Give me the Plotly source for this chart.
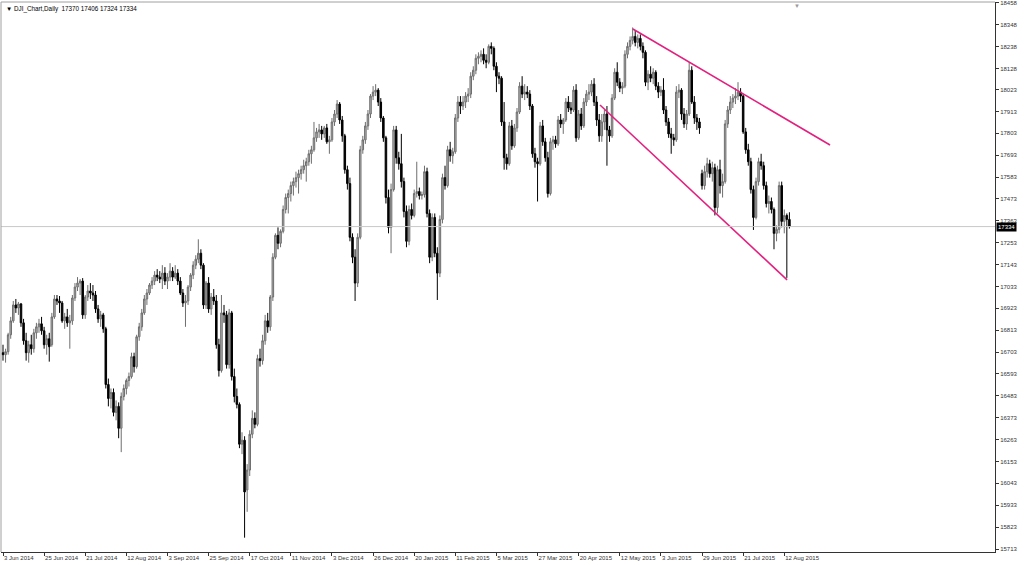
import plotly.graph_objects as go

# ---- data ----
opens = [16700,16690,16705,16790,16860,16940,16925,16945,16850,16760,16700,16740,16720,16800,16830,16845,16810,16740,16770,16740,
16880,16970,16960,16950,16860,16880,16850,16860,16975,17030,17050,17060,16890,16980,17010,17000,16990,16920,16870,16890,
16820,16540,16470,16500,16400,16430,16320,16480,16520,16560,16580,16680,16630,16780,16830,16900,16970,17000,17040,17060,
17090,17080,17070,17100,17060,17080,17110,17080,17100,17060,17000,16950,16960,17030,17090,17140,17170,17200,17140,16940,
17050,16920,16980,16960,16740,16610,16900,16890,16640,16900,16580,16480,16440,16240,16260,16010,16110,16290,16370,16340,
16670,16660,16760,16860,16830,16980,17180,17290,17250,17310,17420,17480,17500,17540,17560,17580,17600,17620,17640,17660,
17700,17720,17780,17810,17820,17800,17830,17760,17770,17860,17900,17950,17870,17790,17620,17550,17280,17180,17050,17280,
17720,17770,17840,17900,17990,18010,18020,17960,17880,17780,17480,17330,17520,17820,17680,17650,17560,17410,17260,17420,
17390,17500,17510,17490,17495,17610,17400,17180,17380,17200,17100,17370,17580,17540,17720,17690,17710,17880,17960,17940,
17960,17990,18000,18090,18120,18180,18190,18200,18170,18160,18240,18230,18140,18090,18080,17860,17680,17650,17840,17740,
17830,17910,18040,18000,18010,18000,17940,17700,17660,17650,17840,17760,17680,17500,17760,17770,17750,17870,17850,17870,
17960,17930,17920,18020,17780,17900,17840,17960,18000,18010,18050,17960,17870,17790,17860,17900,17820,17790,17980,18110,
18060,18030,18040,18200,18240,18270,18290,18260,18280,18240,18210,18060,18100,18080,18110,18040,18010,18020,17920,17860,
17800,17780,17770,18010,18020,17900,17850,17900,18120,17960,17880,17860,17600,17540,17610,17650,17600,17630,17430,17620,
17540,17560,17850,17920,17960,17980,17990,18010,17990,17810,17720,17660,17520,17380,17560,17660,17640,17540,17450,17460,
17420,17300,17320,17540,17360,17390,17370]
highs = [16740,16720,16800,16880,16960,16970,16955,16950,16870,16800,16760,16790,16820,16850,16870,16880,16830,16790,16800,16900,
16990,16990,16985,16960,16900,16920,16890,16990,17050,17080,17070,17075,16990,17040,17050,17040,17010,16940,16910,16900,
16830,16570,16520,16520,16460,16450,16500,16540,16570,16600,16700,16700,16790,16850,16920,16990,17020,17050,17080,17110,
17120,17110,17140,17130,17100,17150,17130,17140,17120,17080,17020,16990,17040,17100,17160,17190,17270,17220,17150,17060,
17080,17000,17020,16990,16770,16990,16940,16910,16920,16910,16620,16520,16450,16300,16280,16140,16310,16410,16400,16690,
16720,16790,16890,16900,16990,17200,17300,17330,17320,17440,17500,17520,17560,17580,17610,17620,17640,17670,17680,17720,
17740,17860,17830,17850,17840,17840,17850,17790,17880,17920,17970,17960,17890,17800,17640,17580,17300,17220,17300,17740,
17790,17860,17920,18000,18040,18050,18030,17980,17890,17790,17520,17550,17840,17840,17710,17800,17580,17440,17440,17450,
17520,17660,17530,17510,17640,17630,17420,17400,17400,17230,17390,17600,17640,17740,17760,17730,17900,17990,17990,17990,
18010,18030,18110,18140,18200,18210,18220,18230,18200,18250,18260,18240,18160,18110,18090,17960,17700,17860,17870,17850,
17930,18060,18090,18050,18040,18020,17950,17730,17680,17860,17870,17780,17710,17780,17790,17790,17890,17900,17880,17980,
17990,17960,18040,18050,17920,17930,17980,18020,18050,18070,18080,17990,17900,17900,17920,17940,17840,18000,18130,18160,
18080,18060,18220,18260,18290,18335,18320,18300,18300,18260,18220,18120,18140,18130,18120,18060,18040,18080,17940,17880,
17830,17800,18040,18050,18030,17930,17920,18160,18140,17990,17900,17880,17620,17640,17680,17670,17660,17650,17640,17670,
17600,17870,17940,17990,18000,18030,18060,18030,18000,17830,17750,17680,17540,17580,17680,17700,17660,17560,17490,17480,
17430,17340,17560,17560,17420,17400,17406]
lows = [16660,16650,16690,16770,16850,16900,16890,16830,16740,16660,16650,16690,16700,16770,16800,16790,16720,16690,16655,16730,
16870,16940,16900,16850,16820,16830,16720,16840,16960,17010,16990,16870,16870,16960,16970,16960,16900,16850,16830,16800,
16520,16430,16420,16380,16360,16270,16200,16460,16490,16530,16570,16600,16620,16760,16810,16890,16940,16990,17020,17040,
17060,17050,17020,17040,17020,17060,17060,17070,17040,16990,16930,16830,16940,17010,17070,17120,17150,17120,16920,16920,
16900,16890,16940,16720,16580,16600,16850,16620,16620,16560,16450,16420,16220,16190,15770,15900,16080,16270,16320,16330,
16630,16640,16740,16800,16810,16960,17170,17220,17230,17300,17400,17400,17460,17490,17530,17500,17570,17600,17560,17640,
17650,17710,17760,17780,17770,17780,17750,17700,17760,17840,17880,17850,17760,17600,17520,17260,17150,16960,17030,17270,
17700,17750,17820,17880,17970,17990,17940,17860,17760,17450,17300,17200,17510,17650,17620,17530,17380,17230,17240,17370,
17380,17480,17470,17470,17480,17380,17150,17160,17180,16965,17080,17350,17520,17530,17660,17650,17700,17860,17900,17920,
17930,17960,17980,18070,18100,18150,18160,18150,18130,18150,18200,18120,18010,18050,17840,17620,17620,17640,17720,17730,
17810,17900,17980,17970,17980,17920,17680,17630,17460,17640,17740,17660,17480,17490,17720,17730,17740,17830,17800,17860,
17910,17900,17910,17760,17770,17820,17830,17940,17970,17990,17940,17840,17760,17760,17820,17640,17760,17780,17970,18040,
18010,18000,18030,18180,18220,18250,18240,18230,18220,18180,18040,18020,18060,18050,18020,17980,17990,17900,17840,17780,
17700,17740,17760,17980,17870,17830,17820,17890,17950,17850,17820,17800,17520,17520,17580,17580,17560,17390,17400,17500,
17480,17550,17830,17900,17930,17950,17970,17960,17800,17700,17640,17500,17317,17370,17540,17620,17520,17430,17400,17400,
17220,17260,17300,17330,17300,17076,17324]
closes = [16690,16705,16790,16860,16940,16925,16945,16850,16760,16700,16740,16720,16800,16830,16845,16810,16740,16770,16730,16880,
16970,16960,16950,16860,16880,16850,16860,16975,17030,17050,17060,16890,16980,17010,17000,16990,16920,16870,16890,16820,
16540,16470,16500,16400,16430,16320,16480,16520,16560,16580,16680,16630,16780,16830,16900,16970,17000,17040,17060,17090,
17080,17070,17100,17060,17080,17110,17080,17100,17060,17000,16950,16960,17030,17090,17140,17170,17200,17140,16940,17050,
16920,16980,16960,16740,16610,16900,16890,16640,16900,16580,16480,16440,16240,16260,16000,16110,16290,16370,16340,16670,
16660,16760,16860,16830,16980,17180,17290,17250,17310,17420,17480,17500,17540,17560,17580,17600,17620,17640,17660,17700,
17720,17780,17810,17820,17800,17830,17760,17770,17860,17900,17950,17870,17790,17620,17550,17280,17180,17050,17280,17720,
17770,17840,17900,17990,18010,18020,17960,17880,17780,17480,17330,17520,17820,17680,17650,17560,17410,17260,17420,17390,
17500,17510,17490,17495,17610,17400,17180,17380,17200,17100,17370,17580,17540,17720,17690,17710,17880,17960,17940,17960,
17990,18000,18090,18120,18180,18190,18200,18170,18160,18240,18230,18140,18090,18080,17860,17680,17650,17840,17740,17830,
17910,18040,18000,18010,18000,17940,17700,17660,17650,17840,17760,17680,17500,17760,17770,17750,17870,17850,17870,17960,
17930,17920,18020,17780,17900,17840,17960,18000,18010,18050,17960,17870,17790,17860,17900,17820,17790,17980,18110,18060,
18030,18040,18200,18240,18270,18290,18260,18280,18240,18210,18060,18100,18080,18110,18040,18010,18020,17920,17860,17800,
17780,17770,18010,18020,17900,17850,17900,18120,17960,17880,17860,17830,17540,17610,17650,17600,17630,17430,17620,17540,
17560,17850,17920,17960,17980,17990,18010,17990,17810,17720,17660,17520,17380,17560,17660,17640,17540,17450,17460,17420,
17300,17320,17540,17360,17390,17370,17334]

date_labels = ["3 Jun 2014","25 Jun 2014","21 Jul 2014","12 Aug 2014","3 Sep 2014","25 Sep 2014","17 Oct 2014",
               "11 Nov 2014","3 Dec 2014","26 Dec 2014","20 Jan 2015","11 Feb 2015","5 Mar 2015","27 Mar 2015",
               "20 Apr 2015","12 May 2015","3 Jun 2015","29 Jun 2015","21 Jul 2015","12 Aug 2015"]
bars_per_label = 16
price_ticks = [18458,18348,18238,18128,18023,17913,17803,17693,17583,17473,17363,17253,17143,17033,
               16923,16813,16703,16593,16483,16373,16263,16153,16043,15933,15823,15713]
last_price = 17334
title_text = "DJI_Chart,Daily  17370 17406 17324 17334"
# trend lines drawn on the chart: (bar index, price)
upper_line_x = [245.1, 321.8]
upper_line_y = [18327, 17744]
lower_line_x = [232.3, 305.1]
lower_line_y = [17945, 17066]

assert len(opens) == len(highs) == len(lows) == len(closes)
n = len(closes)
idx = list(range(n))

fig = go.Figure()
fig.add_trace(go.Candlestick(
    x=idx, open=opens, high=highs, low=lows, close=closes,
    increasing=dict(line=dict(color="#6e6e6e", width=1), fillcolor="#b4b4b4"),
    decreasing=dict(line=dict(color="#000000", width=1), fillcolor="#000000"),
    whiskerwidth=0, hoverinfo="skip", showlegend=False,
))
fig.add_trace(go.Scatter(x=upper_line_x, y=upper_line_y, mode="lines",
                         line=dict(color="#e3207f", width=1.6), hoverinfo="skip", showlegend=False))
fig.add_trace(go.Scatter(x=lower_line_x, y=lower_line_y, mode="lines",
                         line=dict(color="#e3207f", width=1.6), hoverinfo="skip", showlegend=False))

font_small = dict(family="Liberation Sans, Arial, sans-serif", size=6, color="#333333")

fig.update_layout(
    width=1024, height=565,
    margin=dict(l=1, r=29, t=2, b=13, autoexpand=False),
    paper_bgcolor="white", plot_bgcolor="white",
    font=font_small,
    boxgap=0.15,
    shapes=[
        dict(type="line", xref="paper", x0=0, x1=1, yref="y", y0=last_price, y1=last_price,
             line=dict(color="#c8c8c8", width=1)),
        dict(type="line", xref="paper", x0=0, x1=1, yref="paper", y0=1, y1=1,
             line=dict(color="#a0a0a0", width=1)),
        dict(type="line", xref="paper", x0=0, x1=0, yref="paper", y0=0, y1=1,
             line=dict(color="#a0a0a0", width=1)),
    ],
    annotations=[
        dict(text="▼ " + title_text, xref="paper", yref="paper", x=0, y=1, xanchor="left",
             yanchor="top", xshift=3, yshift=-1, showarrow=False,
             font=dict(family="Liberation Sans, Arial, sans-serif", size=6.3, color="#000")),
        dict(text=str(last_price), xref="paper", yref="y", x=1, y=last_price, xanchor="left",
             yanchor="middle", xshift=1, showarrow=False, bgcolor="#000000", borderpad=1,
             font=dict(family="Liberation Sans, Arial, sans-serif", size=6, color="#ffffff")),
        dict(text="▼", xref="x", yref="paper", x=309, y=1, xanchor="center", yanchor="top",
             yshift=1, showarrow=False, font=dict(size=6, color="#9a9a9a")),
    ],
)
fig.update_xaxes(
    range=[-0.78, 386.0], rangeslider=dict(visible=False), automargin=False,
    tickmode="array", tickvals=[k * bars_per_label for k in range(len(date_labels))],
    ticktext=date_labels, ticks="outside", ticklen=3, tickcolor="#333", tickangle=0,
    ticklabelposition="outside right",
    showline=True, linecolor="#333", linewidth=1, showgrid=False, zeroline=False,
)
fig.update_yaxes(
    range=[15698, 18463], side="right", automargin=False, ticklabeloverflow="allow",
    tickmode="array", tickvals=price_ticks, ticktext=[str(v) for v in price_ticks],
    ticks="outside", ticklen=3, tickcolor="#333",
    showline=True, linecolor="#333", linewidth=1, showgrid=False, zeroline=False,
)

fig.write_html("out.html", config={"displayModeBar": False},
               post_script="document.body.style.margin='0';document.body.style.overflow='hidden';")
